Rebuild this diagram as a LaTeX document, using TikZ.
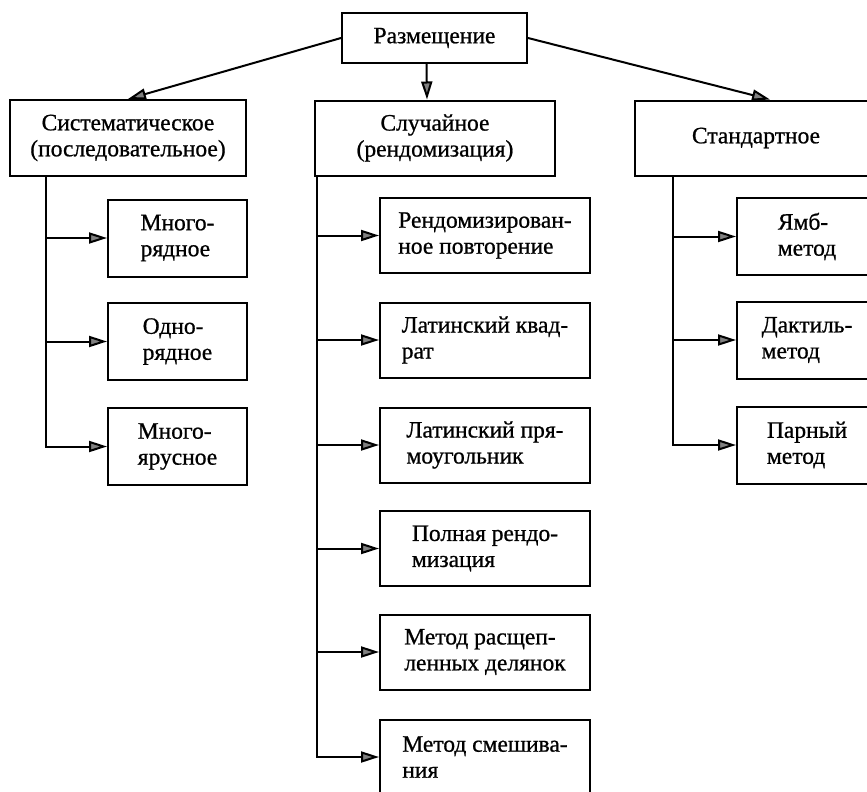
\documentclass[tikz,border=0pt]{standalone}
\usepackage{fontspec}
\setmainfont{Liberation Serif}
\newfontfamily\boxfont{Liberation Serif}[FakeBold=0.8]
\usetikzlibrary{arrows.meta}

\begin{document}
\begin{tikzpicture}[x=1pt,y=-1pt,
        box/.style={draw,line width=2pt,inner sep=0pt,align=left,font=\boxfont\fontsize{23.5}{26}\selectfont},
        arr/.style={line width=2pt,-{Triangle[length=18pt,width=11pt,fill=gray]}}]
        \clip (0,0) rectangle (867,792);
        \node[box,minimum width=185pt,minimum height=50pt] (place) at (434.5,38) {Размещение};
        \node[box,align=center,minimum width=236pt,minimum height=76pt] (sys) at (128,138) {Систематическое\\(последовательное)};
        \node[box,align=center,minimum width=240pt,minimum height=75pt] (rnd) at (435,138) {Случайное\\(рендомизация)};
        \node[box,minimum width=242pt,minimum height=75pt] (std) at (756,138) {Стандартное};
        \draw[arr] (place.west) -- (sys.north);
        \draw[arr] ([xshift=-8pt]place.south) -- ([xshift=-8pt]rnd.north);
        \draw[arr] (place.east) -- ([xshift=14pt]std.north);
        \foreach \n/\y/\t in {s1/238/{Много-\\рядное}, s2/341.5/{Одно-\\рядное}, s3/446.5/{Много-\\ярусное}}{
            \node[box,minimum width=139pt,minimum height=77pt] (\n) at (177.5,\y) {\t};
        }
        \foreach \n/\y/\t in {r1/235.5/{Рендомизирован-\\ное повторение}, r2/340/{Латинский квад-\\рат},
            r3/445/{Латинский пря-\\моугольник}, r4/548.5/{Полная рендо-\\мизация},
            r5/652/{Метод расщеп-\\ленных делянок}, r6/757/{Метод смешива-\\ния}}{
            \node[box,minimum width=210pt,minimum height=75pt] (\n) at (485,\y) {\t};
        }
        \foreach \n/\y/\t in {d1/236.5/{Ямб-\\метод}, d2/340/{Дактиль-\\метод}, d3/445/{Парный\\метод}}{
            \node[box,minimum width=140pt,minimum height=77pt] (\n) at (807,\y) {\t};
        }
        \coordinate (tl) at (46,0);
        \coordinate (tm) at (317,0);
        \coordinate (tr) at (673,0);
        \foreach \n in {s1,s2,s3} \draw[arr] (sys.south -| tl) |- (\n.west);
        \foreach \n in {r1,r2,r3,r4,r5,r6} \draw[arr] (rnd.south -| tm) |- (\n.west);
        \foreach \n in {d1,d2,d3} \draw[arr] (std.south -| tr) |- (\n.west);
    \end{tikzpicture}
\end{document}
